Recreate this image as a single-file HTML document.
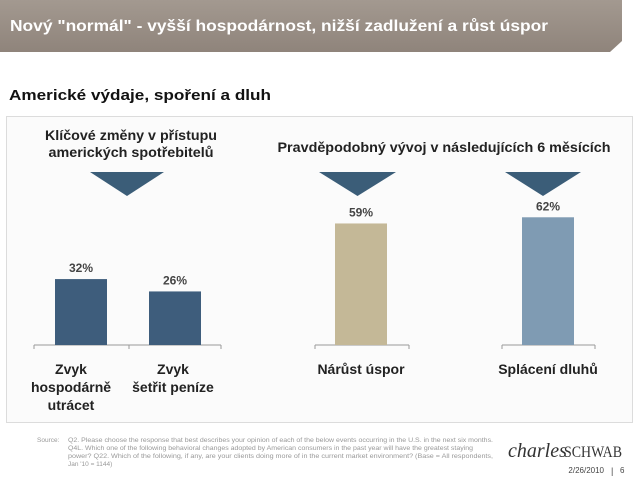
<!DOCTYPE html>
<html><head><meta charset="utf-8"><style>
body{margin:0;width:640px;height:480px;overflow:hidden;background:#fff;font-family:"Liberation Sans",sans-serif}
svg{display:block}
</style></head><body>
<svg width="640" height="480" viewBox="0 0 640 480">
<defs><linearGradient id="hg" x1="0" y1="0" x2="0" y2="1"><stop offset="0" stop-color="#a39990"/><stop offset="1" stop-color="#8f847b"/></linearGradient></defs>
<path d="M0 0 H622 V41 L610 52 H0 Z" fill="url(#hg)"/>
<text x="10" y="31" fill="#fff" font-size="16" font-weight="bold" textLength="538" lengthAdjust="spacingAndGlyphs">Nový "normál" - vyšší hospodárnost, nižší zadlužení a růst úspor</text>
<text x="9" y="100" fill="#111" font-size="15" font-weight="bold" textLength="262" lengthAdjust="spacingAndGlyphs">Americké výdaje, spoření a dluh</text>
<rect x="6.5" y="116.5" width="626" height="306" fill="#fbfbfb" stroke="#dcdcdc"/>
<g font-size="14" font-weight="bold" fill="#222" text-anchor="middle">
<text x="131" y="140" textLength="172" lengthAdjust="spacingAndGlyphs">Klíčové změny v přístupu</text>
<text x="131" y="157" textLength="165" lengthAdjust="spacingAndGlyphs">amerických spotřebitelů</text>
<text x="444" y="152" textLength="333" lengthAdjust="spacingAndGlyphs">Pravděpodobný vývoj v následujících 6 měsících</text>
</g>
<g id="chart"></g>
<g fill="#999" font-size="6.5">
<text x="37" y="442">Source:</text>
<text x="68" y="442" textLength="425" lengthAdjust="spacingAndGlyphs">Q2. Please choose the response that best describes your opinion of each of the below events occurring in the U.S. in the next six months.</text>
<text x="68" y="450" textLength="405" lengthAdjust="spacingAndGlyphs">Q4L. Which one of the following behavioral changes adopted by American consumers in the past year will have the greatest staying</text>
<text x="68" y="458" textLength="425" lengthAdjust="spacingAndGlyphs">power? Q22. Which of the following, if any, are your clients doing more of in the current market environment? (Base = All respondents,</text>
<text x="68" y="466">Jan '10 = 1144)</text>
</g>
<text x="508" y="457" font-family="Liberation Serif,serif" font-size="20" font-style="italic" fill="#333">charles</text>
<text x="564" y="457" font-family="Liberation Serif,serif" font-size="16" fill="#333" textLength="58" lengthAdjust="spacingAndGlyphs">SCHWAB</text>
<text x="604" y="473" font-size="8" fill="#444" text-anchor="end">2/26/2010</text>
<text x="611" y="474" font-size="9" fill="#444">|</text>
<text x="620" y="473" font-size="8" fill="#444">6</text>
</svg>
<script>
const categories=["Zvyk|hospodárně|utrácet","Zvyk|šetřit peníze","Nárůst úspor","Splácení dluhů"];
const values=[32,26,59,62];
const valueLabels=["32%","26%","59%","62%"];
const ns="http://www.w3.org/2000/svg";
const g=document.getElementById('chart');
const base=345, pxPer=2.06;
const y=v=>base-v*pxPer;
const barX=[55,149,335,522], barW=52;
const colors=["#3e5d7c","#3e5d7c","#c4b897","#7f9bb3"];
function mk(t,a){const e=document.createElementNS(ns,t);for(const k in a)e.setAttribute(k,a[k]);g.appendChild(e);return e;}
[[34,221,[34,129,221]],[315,409,[315,409]],[502,595,[502,595]]].forEach((ax,i)=>{
 const l=mk('path',{d:`M${ax[0]} ${base}H${ax[1]}`+ax[2].map(t=>`M${t} ${base}v4`).join(''),stroke:'#999',fill:'none'});
 
 
});
[[90,164],[319,396],[505,581]].forEach((t,i)=>{
 const p=mk('polygon',{points:`${t[0]},172 ${t[1]},172 ${(t[0]+t[1])/2},196`,fill:'#3b5d78'});
 
 
});
values.forEach((v,i)=>{
 const r=mk('rect',{x:barX[i],y:y(v),width:barW,height:base-y(v),fill:colors[i]});
 
 
 const t=mk('text',{x:barX[i]+barW/2,y:y(v)-7,'text-anchor':'middle','font-size':'12','font-weight':'bold',fill:'#444'});
 t.textContent=valueLabels[i];
 
 
 const lines=categories[i].split('|');
 const cx=[71,173,361,548][i];
 lines.forEach((s,j)=>{
  const c=mk('text',{x:cx,y:374+j*18,'text-anchor':'middle','font-size':'14','font-weight':'bold',fill:'#222'});
  c.textContent=s;
  
  
 });
});
</script>
</body></html>
